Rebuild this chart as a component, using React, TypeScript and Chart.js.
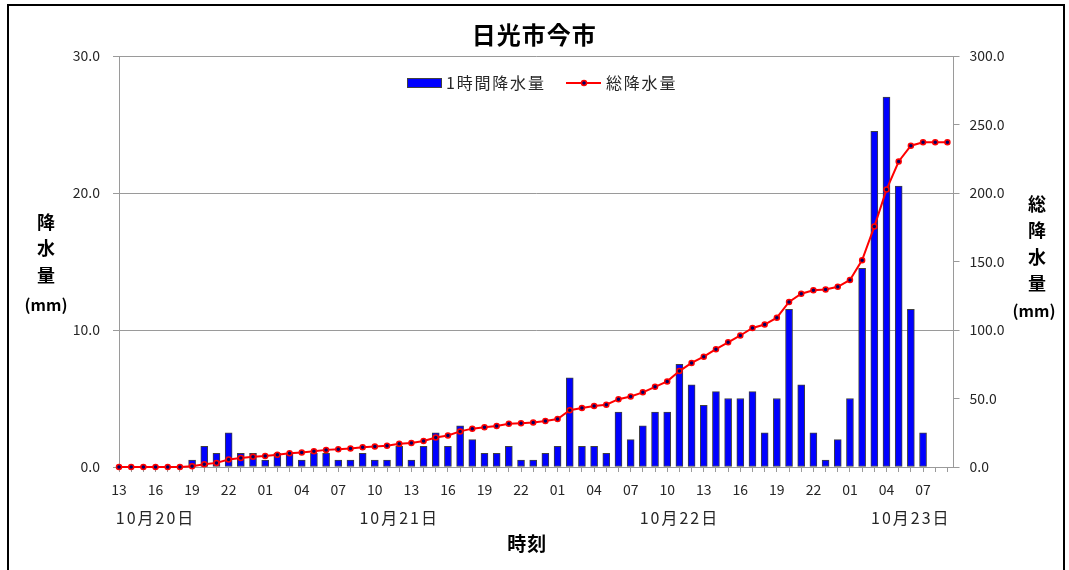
import React, { useEffect, useRef } from 'react';
import { Chart, registerables } from 'chart.js';

Chart.register(...registerables);

// ---- data ----
const chartTitle = '日光市今市';
const hourLabels = [
  // 10/20
  '13', '14', '15', '16', '17', '18', '19', '20', '21', '22', '23',
  // 10/21
  '00', '01', '02', '03', '04', '05', '06', '07', '08', '09', '10', '11',
  '12', '13', '14', '15', '16', '17', '18', '19', '20', '21', '22', '23',
  // 10/22
  '00', '01', '02', '03', '04', '05', '06', '07', '08', '09', '10', '11',
  '12', '13', '14', '15', '16', '17', '18', '19', '20', '21', '22', '23',
  // 10/23
  '00', '01', '02', '03', '04', '05', '06', '07', '08', '09',
];
const dateLabels = ['10月20日', '10月21日', '10月22日', '10月23日'];
const dateAnchorIndex = [3, 23, 46, 65];
const hourlyRain = [
  0, 0, 0, 0, 0, 0, 0.5, 1.5, 1.0, 2.5, 1.0,
  1.0, 0.5, 1.0, 1.0, 0.5, 1.0, 1.0, 0.5, 0.5, 1.0, 0.5, 0.5,
  1.5, 0.5, 1.5, 2.5, 1.5, 3.0, 2.0, 1.0, 1.0, 1.5, 0.5, 0.5,
  1.0, 1.5, 6.5, 1.5, 1.5, 1.0, 4.0, 2.0, 3.0, 4.0, 4.0, 7.5,
  6.0, 4.5, 5.5, 5.0, 5.0, 5.5, 2.5, 5.0, 11.5, 6.0, 2.5, 0.5,
  2.0, 5.0, 14.5, 24.5, 27.0, 20.5, 11.5, 2.5, 0, 0,
];
const totalRain = [
  0, 0, 0, 0, 0, 0, 0.5, 2.0, 3.0, 5.5, 6.5,
  7.5, 8.0, 9.0, 10.0, 10.5, 11.5, 12.5, 13.0, 13.5, 14.5, 15.0, 15.5,
  17.0, 17.5, 19.0, 21.5, 23.0, 26.0, 28.0, 29.0, 30.0, 31.5, 32.0, 32.5,
  33.5, 35.0, 41.5, 43.0, 44.5, 45.5, 49.5, 51.5, 54.5, 58.5, 62.5, 70.0,
  76.0, 80.5, 86.0, 91.0, 96.0, 101.5, 104.0, 109.0, 120.5, 126.5, 129.0, 129.5,
  131.5, 136.5, 151.0, 175.5, 202.5, 223.0, 234.5, 237.0, 237.0, 237.0,
];
const leftTicks = [0, 10, 20, 30];
const rightTicks = [0, 50, 100, 150, 200, 250, 300];
const barLegend = '1時間降水量';
const lineLegend = '総降水量';
const leftAxisTitle = ['降', '水', '量'];
const rightAxisTitle = ['総', '降', '水', '量'];
const unitLabel = '(mm)';
const xAxisTitle = '時刻';

const FONT = '"Noto Sans CJK JP", "Noto Sans", sans-serif';
const AXIS_GRAY = '#9a9a9a';
const TEXT = '#262626';

const decorPlugin = {
  id: 'decor',
  afterDraw(chart: any) {
    const { ctx, chartArea, scales } = chart;
    const cx = (chartArea.left + chartArea.right) / 2;
    ctx.save();
    ctx.textAlign = 'center';
    ctx.textBaseline = 'middle';
    // title
    ctx.fillStyle = '#000';
    ctx.font = `bold 24px ${FONT}`;
    ctx.letterSpacing = '1px';
    ctx.fillText(chartTitle, cx - 2, 35);
    // x axis title
    ctx.font = `bold 19px ${FONT}`;
    ctx.fillText(xAxisTitle, cx - 9, 544);
    // date labels
    ctx.fillStyle = TEXT;
    ctx.font = `16px ${FONT}`;
    ctx.letterSpacing = '2px';
    dateLabels.forEach((d, i) => {
      ctx.fillText(d, scales.x.getPixelForValue(dateAnchorIndex[i]), 518);
    });
    ctx.letterSpacing = '0px';
    // left axis title
    ctx.fillStyle = '#000';
    ctx.font = `bold 18px ${FONT}`;
    leftAxisTitle.forEach((c, i) => ctx.fillText(c, 46, 222 + i * 26.5));
    ctx.font = `bold 16px ${FONT}`;
    ctx.fillText(unitLabel, 46, 305);
    // right axis title
    ctx.font = `bold 18px ${FONT}`;
    rightAxisTitle.forEach((c, i) => ctx.fillText(c, 1037, 204 + i * 26.5));
    ctx.font = `bold 16px ${FONT}`;
    ctx.fillText(unitLabel, 1034, 311);
    // legend
    const ly = 83;
    ctx.fillStyle = '#0000ff';
    ctx.strokeStyle = '#404040';
    ctx.lineWidth = 1;
    ctx.fillRect(407, ly - 5, 35, 10);
    ctx.strokeRect(407.5, ly - 4.5, 34, 9);
    ctx.fillStyle = TEXT;
    ctx.font = `16px ${FONT}`;
    ctx.letterSpacing = '1.8px';
    ctx.textAlign = 'left';
    ctx.fillText(barLegend, 446, ly);
    ctx.strokeStyle = '#ff0000';
    ctx.lineWidth = 2;
    ctx.beginPath();
    ctx.moveTo(566, ly);
    ctx.lineTo(601, ly);
    ctx.stroke();
    ctx.beginPath();
    ctx.arc(584, ly, 2.5, 0, Math.PI * 2);
    ctx.fillStyle = '#000066';
    ctx.fill();
    ctx.lineWidth = 1.5;
    ctx.stroke();
    ctx.fillStyle = TEXT;
    ctx.fillText(lineLegend, 606, ly);
    ctx.letterSpacing = '0px';
    ctx.restore();
  },
};

export default function App() {
  const ref = useRef<HTMLCanvasElement | null>(null);

  useEffect(() => {
    if (!ref.current) return;
    const barData = hourlyRain.map((v, i) => ({ x: i, y: v }));
    const lineData = totalRain.map((v, i) => ({ x: i, y: v }));
    const chart = new Chart(ref.current, {
      type: 'bar',
      data: {
        datasets: [
          {
            type: 'line',
            label: lineLegend,
            data: lineData,
            yAxisID: 'y1',
            borderColor: '#ff0000',
            borderWidth: 2,
            pointRadius: 2.5,
            pointBorderWidth: 1.5,
            pointBorderColor: '#ff0000',
            pointBackgroundColor: '#000066',
            tension: 0,
            order: 0,
            clip: false,
          } as any,
          {
            type: 'bar',
            label: barLegend,
            data: barData,
            yAxisID: 'y',
            backgroundColor: '#0000ff',
            borderColor: '#404040',
            borderWidth: 1,
            borderSkipped: false,
            barThickness: 7,
            order: 1,
          } as any,
        ],
      },
      options: {
        responsive: false,
        animation: false,
        devicePixelRatio: 1,
        layout: { padding: { top: 56, left: 0, right: 0, bottom: 0 } },
        plugins: {
          legend: { display: false },
          title: { display: false },
          tooltip: { enabled: false },
        },
        scales: {
          x: {
            type: 'linear',
            position: 'bottom',
            offset: false,
            min: 0,
            max: 68.5,
            afterFit: (s: any) => { s.height = 103; },
            afterBuildTicks: (axis: any) => {
              axis.ticks = hourLabels.map((_, i) => ({ value: i }));
            },
            ticks: {
              autoSkip: false,
              maxRotation: 0,
              minRotation: 0,
              padding: 9,
              color: TEXT,
              font: { family: FONT, size: 14 },
              callback: (v: any) => {
                const n = Number(v);
                return Number.isInteger(n) && n % 3 === 0 ? hourLabels[n] : '';
              },
            },
            grid: { offset: false, drawOnChartArea: false, drawTicks: true, tickLength: 5, color: AXIS_GRAY },
            border: { color: AXIS_GRAY },
          },
          y: {
            type: 'linear',
            position: 'left',
            min: 0,
            max: 30,
            afterFit: (s: any) => { s.width = 119; },
            afterBuildTicks: (axis: any) => {
              axis.ticks = leftTicks.map((v) => ({ value: v }));
            },
            ticks: {
              padding: 13,
              color: TEXT,
              font: { family: FONT, size: 14 },
              callback: (v: any) => Number(v).toFixed(1),
            },
            grid: { color: AXIS_GRAY, tickLength: 6 },
            border: { color: AXIS_GRAY },
          },
          y1: {
            type: 'linear',
            position: 'right',
            min: 0,
            max: 300,
            afterFit: (s: any) => { s.width = 115.5; },
            afterBuildTicks: (axis: any) => {
              axis.ticks = rightTicks.map((v) => ({ value: v }));
            },
            ticks: {
              padding: 10,
              color: TEXT,
              font: { family: FONT, size: 14 },
              callback: (v: any) => Number(v).toFixed(1),
            },
            grid: { drawOnChartArea: false, color: AXIS_GRAY, tickLength: 6 },
            border: { color: AXIS_GRAY },
          },
        },
      },
      plugins: [decorPlugin],
    } as any);
    return () => chart.destroy();
  }, []);

  return (
    <div style={{ position: 'fixed', left: 0, top: 0, width: 1069, height: 570, overflow: 'hidden', background: '#fff' }}>
      <div
        style={{
          position: 'absolute',
          left: 7,
          top: 4,
          width: 1058,
          height: 620,
          border: '2px solid #000',
          boxSizing: 'border-box',
        }}
      />
      <canvas ref={ref} width={1069} height={570} style={{ position: 'absolute', left: 0, top: 0, width: 1069, height: 570 }} />
    </div>
  );
}
